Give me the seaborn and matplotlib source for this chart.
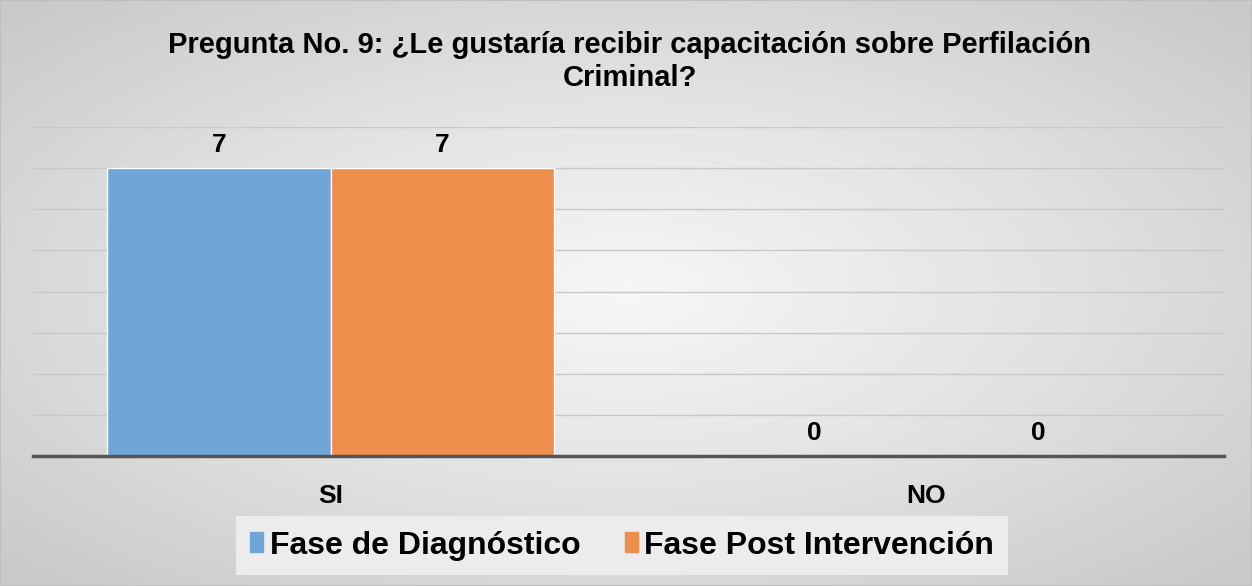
import numpy as np
import pandas as pd
import matplotlib
matplotlib.use('Agg')
import matplotlib.pyplot as plt
import seaborn as sns

# chart data
categories = ['SI', 'NO']
series_names = ['Fase de Diagnóstico', 'Fase Post Intervención']
diagnostico = [7, 0]
post_intervencion = [7, 0]
colors = ['#6FA5D7', '#EE8E4D']

df = pd.DataFrame({
    'respuesta': categories * 2,
    'fase': [series_names[0]] * 2 + [series_names[1]] * 2,
    'valor': diagnostico + post_intervencion,
})

sns.set_theme(style='white')
plt.rcParams['font.family'] = ['Liberation Sans', 'DejaVu Sans']
plt.rcParams['text.color'] = 'black'
plt.rcParams['xtick.color'] = 'black'

fig = plt.figure(figsize=(12.52, 5.86), dpi=100)

# radial gray background
bg = fig.add_axes([0, 0, 1, 1], zorder=-10)
yy, xx = np.mgrid[-1:1:300j, -1:1:600j]
r = np.sqrt((xx * 0.9) ** 2 + (yy * 0.9) ** 2)
bg.imshow(r, cmap=matplotlib.colors.LinearSegmentedColormap.from_list('g', ['#f7f7f7', '#e2e2e2', '#c9c9c9']),
          aspect='auto', extent=[0, 1, 0, 1], vmin=0, vmax=1.25)
bg.set_axis_off()
fig.patches.append(plt.Rectangle((0, 0), 1, 1, transform=fig.transFigure, fill=False,
                                 edgecolor='#bfbfbf', linewidth=1.5))

ax = fig.add_axes([0.026, 0.222, 0.952, 0.561])
ax.set_facecolor('none')
sns.barplot(data=df, x='respuesta', y='valor', hue='fase', palette=colors,
            width=0.75, edgecolor='white', linewidth=1, saturation=1, ax=ax)

ax.set_ylim(0, 8)
ax.set_yticks(range(0, 9))
ax.yaxis.grid(True, color='#c8c8c8', linewidth=1)
ax.set_axisbelow(True)
ax.tick_params(axis='y', left=False, labelleft=False)
ax.tick_params(axis='x', bottom=False, pad=14, labelsize=19, labelcolor='black')
for lab in ax.get_xticklabels():
    lab.set_fontweight('bold')
ax.set_xlabel('')
ax.set_ylabel('')
for s in ['left', 'right', 'top']:
    ax.spines[s].set_visible(False)
ax.spines['bottom'].set_color('#555555')
ax.spines['bottom'].set_linewidth(2.5)

for cont in ax.containers:
    ax.bar_label(cont, padding=8, fontsize=19, fontweight='bold', color='black')

ax.legend_.remove()
handles = [plt.Rectangle((0, 0), 1, 1, color=c) for c in colors]
leg = fig.legend(handles, series_names, loc='center', bbox_to_anchor=(0.497, 0.069),
                 ncol=2, frameon=True, fancybox=False,
                 prop={'weight': 'bold', 'size': 23}, handlelength=0.4, handleheight=0.6,
                 handletextpad=0.2, columnspacing=1.4, borderpad=0.45)
leg.get_frame().set_facecolor('#ececec')
leg.get_frame().set_edgecolor('none')
leg.get_frame().set_alpha(1)

fig.text(0.503, 0.895, 'Pregunta No. 9: ¿Le gustaría recibir capacitación sobre Perfilación\nCriminal?',
         ha='center', va='center', fontsize=21, fontweight='bold', linespacing=1.2, color='black')

fig.savefig('out.png', dpi=100)
